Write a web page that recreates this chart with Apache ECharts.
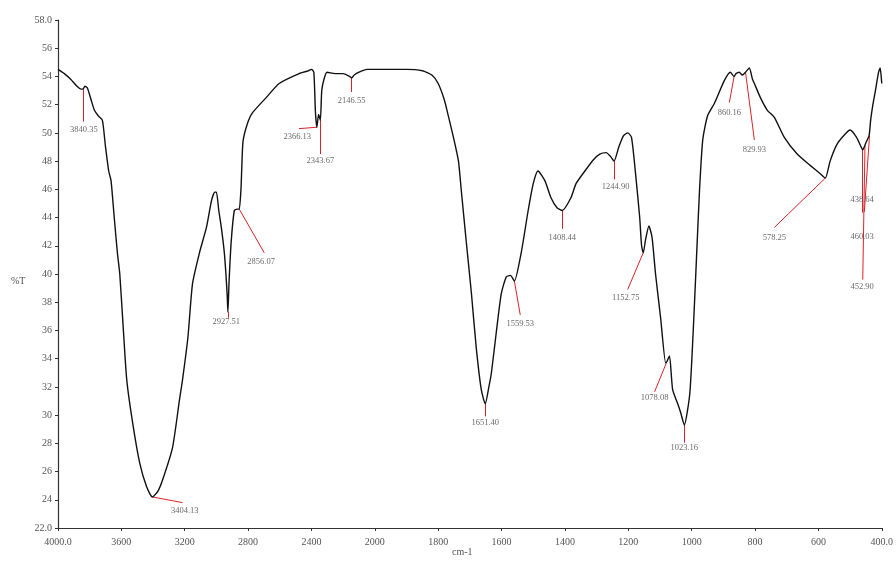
<!DOCTYPE html>
<html>
<head>
<meta charset="utf-8">
<script src="https://cdn.jsdelivr.net/npm/echarts@6/dist/echarts.min.js"></script>
<style>
  html, body { margin: 0; padding: 0; background: #fff; }
  #chart { width: 896px; height: 562px; }
</style>
</head>
<body>
<div id="chart"></div>
<script>
// IR spectrum, wavenumber (cm-1) vs %T
var wavenumbers = [4000, 3960, 3920, 3880, 3855, 3843, 3830, 3815, 3790, 3770, 3745, 3720, 3700, 3680, 3665, 3645, 3625, 3610, 3590, 3566,
    3528, 3484, 3440, 3404, 3370, 3340, 3277, 3233, 3214, 3180, 3151, 3107, 3063, 3031, 3010, 3000, 2985, 2969, 2950, 2940,
    2932, 2927.5, 2920, 2906, 2887, 2870, 2856, 2845, 2840, 2832, 2806, 2774, 2686, 2604, 2478, 2420, 2400, 2385, 2375, 2366,
    2355, 2344, 2335, 2321, 2302, 2250, 2200, 2160, 2146.5, 2130, 2100, 2050, 2000, 1950, 1900, 1850, 1820, 1800, 1780, 1768,
    1750, 1736, 1727, 1711, 1695, 1680, 1664, 1651.4, 1640, 1632, 1617, 1601, 1585, 1572, 1559.5, 1538, 1516, 1500, 1485, 1463,
    1444, 1425, 1408.4, 1381, 1365, 1337, 1310, 1290, 1270, 1255, 1244.9, 1230, 1215, 1202, 1190, 1177, 1164, 1158, 1152.8, 1145,
    1135, 1125, 1114, 1098, 1082, 1078, 1070, 1060, 1044, 1035, 1023.2, 1006, 995, 985, 975, 965, 950, 928, 897, 878,
    866, 860, 850, 840, 830, 818, 808, 802, 783, 761, 739, 708, 667, 626, 594, 578, 563, 541, 516, 500,
    480, 465, 460, 450, 440, 435, 428, 420, 410, 405, 400];
var transmittance = [54.5, 54.2, 53.8, 53.3, 53.1, 53.1, 53.3, 53.2, 52.3, 51.6, 51.2, 50.9, 49.0, 47.3, 46.6, 44.0, 41.5, 40.0, 36.5, 32.5,
    29.4, 26.6, 24.9, 24.2, 24.6, 25.4, 27.7, 31.1, 32.5, 35.5, 39.3, 41.5, 43.3, 45.2, 45.8, 45.8, 44.5, 43.3, 41.5, 40.0,
    38.5, 37.3, 39.5, 42.4, 44.5, 44.6, 44.6, 46.0, 47.5, 49.4, 50.6, 51.4, 52.5, 53.5, 54.2, 54.4, 54.5, 54.3, 51.5, 50.4,
    51.3, 50.9, 53.0, 53.8, 54.3, 54.2, 54.2, 54.0, 53.9, 54.1, 54.3, 54.5, 54.5, 54.5, 54.5, 54.4, 54.1, 53.5, 52.3, 51.2,
    49.5, 48.0, 45.9, 42.2, 38.6, 34.8, 31.8, 30.8, 32.0, 33.0, 35.8, 38.6, 39.8, 39.9, 39.5, 41.5, 44.5, 46.4, 47.3, 46.6,
    45.4, 44.7, 44.5, 45.4, 46.4, 47.3, 48.1, 48.5, 48.6, 48.3, 48.0, 49.0, 49.8, 50.0, 49.7, 47.1, 44.0, 42.0, 41.5, 42.5,
    43.4, 42.6, 40.0, 36.9, 33.7, 33.8, 34.2, 31.8, 30.8, 30.2, 29.3, 31.5, 36.0, 41.0, 46.0, 49.5, 51.2, 52.1, 53.7, 54.3,
    54.0, 54.2, 54.3, 54.1, 54.3, 54.6, 53.8, 53.5, 52.5, 51.6, 51.1, 49.7, 48.5, 47.7, 47.1, 46.8, 48.0, 49.2, 49.9, 50.2,
    49.7, 49.0, 48.8, 49.3, 49.8, 50.9, 52.0, 53.0, 54.3, 54.6, 53.5];

// peak labels: name, point on curve, end of leader line, label centre
var peakNames = ['3840.35', '3404.13', '2927.51', '2856.07', '2366.13', '2343.67', '2146.55', '1651.40', '1559.53', '1408.44',
    '1244.90', '1152.75', '1078.08', '1023.16', '860.16', '829.93', '578.25', '438.64', '460.03', '452.90'];
var peakPoints = [[3843, 53.1], [3404, 24.2], [2927.5, 37.3], [2856, 44.6], [2366, 50.4], [2344, 50.9], [2146.5, 53.9], [1651.4, 30.8], [1559.5, 39.5], [1408.4, 44.5],
    [1244.9, 48.0], [1152.8, 41.5], [1078, 33.8], [1023.2, 29.3], [866, 54.0], [830, 54.3], [578, 46.8], [438.6, 49.8], [460, 48.8], [452.9, 49.1]];
var leaderEnds = [[3843, 50.8], [3214, 23.8], [2927.5, 36.9], [2698, 41.5], [2479, 50.3], [2344, 48.5], [2146.5, 52.9], [1651.4, 29.9], [1541, 37.1], [1408.4, 43.2],
    [1244.9, 46.7], [1202, 38.9], [1117, 31.65], [1023.2, 28.05], [881, 52.15], [802, 49.5], [739, 43.3], [455, 44.4], [460, 44.35], [460, 39.6]];
var labelCentres = [[3837, 50.2], [3200, 23.25], [2938, 36.6], [2718, 40.9], [2490, 49.7], [2344, 48.0], [2146.5, 52.3], [1651.4, 29.45], [1541, 36.5], [1408.4, 42.6],
    [1240, 46.2], [1208, 38.3], [1117, 31.2], [1023.2, 27.7], [881, 51.4], [802, 48.8], [739, 42.6], [462, 45.25], [462, 42.65], [462, 39.1]];

var xTickLabels = [4000, 3600, 3200, 2800, 2400, 2000, 1800, 1600, 1400, 1200, 1000, 800, 600, 400];

// the instrument plots 4000-2000 at half the scale of 2000-400
function toAxis(w) {
    return w >= 2000 ? (4000 - w) / 2 : 3000 - w;
}
function fromAxis(u) {
    return u <= 1000 ? 4000 - 2 * u : 3000 - u;
}
function pt(p) {
    return [toAxis(p[0]), p[1]];
}

var curve = [];
for (var i = 0; i < wavenumbers.length; i++) {
    curve.push([toAxis(wavenumbers[i]), transmittance[i]]);
}
var leaders = [];
var labels = [];
for (var j = 0; j < peakNames.length; j++) {
    leaders.push({coords: [pt(peakPoints[j]), pt(leaderEnds[j])]});
    labels.push({name: peakNames[j], value: pt(labelCentres[j])});
}

var serif = "'Liberation Serif', 'DejaVu Serif', serif";
var chart = echarts.init(document.getElementById('chart'));
var option = {
    backgroundColor: '#ffffff',
    animation: false,
    grid: {left: 58, right: 11, top: 20, bottom: 34},
    xAxis: {
        type: 'value',
        min: 0,
        max: toAxis(xTickLabels[xTickLabels.length - 1]),
        interval: 200,
        splitLine: {show: false},
        axisLine: {onZero: false, lineStyle: {color: '#333', width: 1.2}},
        axisTick: {show: true, length: 3, lineStyle: {color: '#333'}},
        axisLabel: {
            color: '#555', fontFamily: serif, fontSize: 10, margin: 9,
            formatter: function (u) {
                var w = fromAxis(u);
                return (w === 4000 || w === 400) ? w.toFixed(1) : String(w);
            }
        }
    },
    yAxis: {
        type: 'value',
        min: 22,
        max: 58,
        interval: 2,
        splitLine: {show: false},
        axisLine: {show: true, lineStyle: {color: '#333', width: 1.2}},
        axisTick: {show: true, length: 3, lineStyle: {color: '#333'}},
        axisLabel: {
            color: '#555', fontFamily: serif, fontSize: 10, margin: 6,
            formatter: function (v) {
                return (v === 22 || v === 58) ? v.toFixed(1) : String(v);
            }
        }
    },
    graphic: [
        {type: 'text', left: 11, top: 276, style: {text: '%T', fill: '#555', font: '10px ' + serif}},
        {type: 'text', left: 452, top: 547, style: {text: 'cm-1', fill: '#555', font: '10px ' + serif}}
    ],
    series: [
        {
            type: 'lines',
            coordinateSystem: 'cartesian2d',
            polyline: false,
            silent: true,
            z: 1,
            lineStyle: {color: '#d9232a', width: 1, opacity: 1},
            data: leaders
        },
        {
            type: 'line',
            data: curve,
            showSymbol: false,
            smooth: 0.2,
            z: 3,
            lineStyle: {color: '#111', width: 1.4}
        },
        {
            type: 'scatter',
            data: labels,
            symbolSize: 0,
            z: 4,
            label: {
                show: true,
                position: 'inside',
                formatter: '{b}',
                color: '#444',
                fontFamily: serif,
                fontSize: 8.5
            }
        }
    ]
};
chart.setOption(option);
window.onresize = function () {
    chart.resize();
};
</script>
</body>
</html>
